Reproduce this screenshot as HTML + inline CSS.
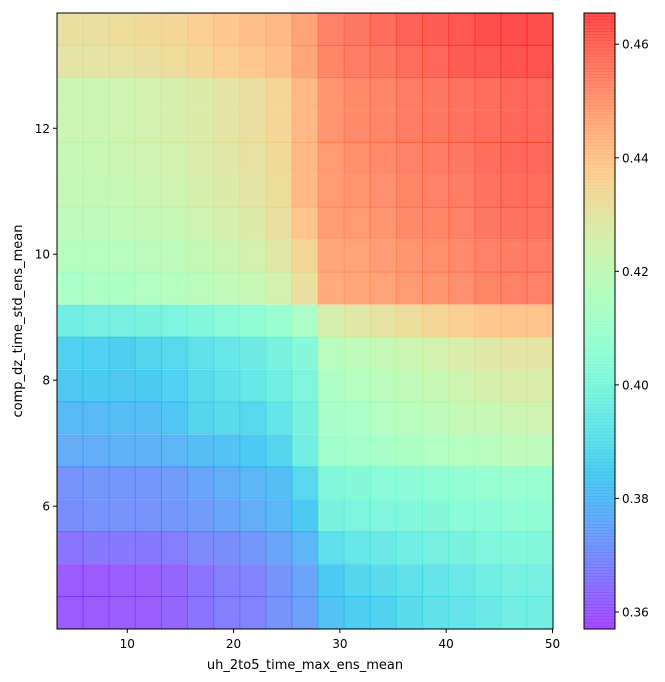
<!DOCTYPE html>
<html><head><meta charset="utf-8"><style>
body{margin:0;background:#fff;}
svg{display:block;font-family:"DejaVu Sans","Liberation Sans",sans-serif;}
</style></head><body>
<svg id="chart" width="665" height="682" viewBox="0 0 665 682" xmlns="http://www.w3.org/2000/svg">
<g id="cells"></g>
<rect x="57" y="13" width="496" height="616" fill="none" stroke="#000" stroke-width="1"/>
<g id="xaxis"></g>
<g id="yaxis"></g>
<text x="305" y="669" font-size="13" text-anchor="middle">uh_2to5_time_max_ens_mean</text>
<text transform="translate(22,321) rotate(-90)" font-size="13" text-anchor="middle">comp_dz_time_std_ens_mean</text>
<g id="cbar"></g>
<rect x="584" y="13" width="31" height="616" fill="none" stroke="#000" stroke-width="1"/>
<g id="caxis"></g>
</svg>
<script>
const xCenters=[4.62,7.07,9.53,11.99,14.44,16.90,19.35,21.81,24.27,26.72,29.18,31.64,34.09,36.55,39.00,41.46,43.92,46.37,48.83];
const yCenters=[13.57,13.06,12.55,12.03,11.52,11.00,10.49,9.97,9.46,8.94,8.43,7.91,7.40,6.88,6.37,5.85,5.34,4.82,4.31];
const zRows=[
[0.432,0.432,0.433,0.434,0.435,0.437,0.439,0.441,0.443,0.448,0.455,0.457,0.459,0.461,0.462,0.463,0.465,0.466,0.465],
[0.430,0.430,0.431,0.432,0.433,0.435,0.437,0.439,0.441,0.447,0.454,0.456,0.457,0.459,0.460,0.462,0.463,0.464,0.464],
[0.423,0.423,0.424,0.425,0.426,0.428,0.430,0.432,0.435,0.443,0.451,0.453,0.454,0.456,0.457,0.458,0.459,0.460,0.460],
[0.423,0.423,0.424,0.425,0.426,0.428,0.430,0.432,0.435,0.443,0.451,0.453,0.454,0.456,0.457,0.458,0.459,0.460,0.460],
[0.422,0.422,0.423,0.424,0.425,0.427,0.429,0.431,0.434,0.443,0.450,0.452,0.453,0.455,0.456,0.457,0.459,0.460,0.460],
[0.421,0.421,0.422,0.423,0.424,0.426,0.428,0.430,0.433,0.443,0.450,0.451,0.452,0.454,0.455,0.456,0.458,0.459,0.459],
[0.419,0.419,0.420,0.421,0.422,0.424,0.426,0.428,0.432,0.440,0.449,0.450,0.451,0.453,0.454,0.455,0.457,0.458,0.458],
[0.416,0.416,0.417,0.418,0.419,0.421,0.423,0.425,0.429,0.435,0.447,0.448,0.449,0.451,0.452,0.453,0.455,0.456,0.456],
[0.413,0.414,0.414,0.415,0.416,0.418,0.420,0.422,0.425,0.432,0.446,0.447,0.448,0.450,0.451,0.452,0.454,0.455,0.455],
[0.396,0.397,0.397,0.398,0.399,0.401,0.403,0.405,0.408,0.414,0.426,0.429,0.431,0.433,0.435,0.437,0.439,0.440,0.440],
[0.386,0.386,0.385,0.387,0.388,0.391,0.393,0.395,0.398,0.402,0.417,0.419,0.421,0.423,0.425,0.427,0.429,0.430,0.430],
[0.383,0.384,0.383,0.384,0.386,0.389,0.391,0.393,0.396,0.400,0.414,0.416,0.418,0.420,0.422,0.424,0.426,0.427,0.427],
[0.380,0.380,0.381,0.381,0.383,0.387,0.389,0.388,0.392,0.398,0.412,0.413,0.415,0.417,0.419,0.421,0.422,0.423,0.424],
[0.377,0.377,0.378,0.378,0.379,0.381,0.382,0.384,0.387,0.396,0.410,0.411,0.412,0.414,0.415,0.416,0.417,0.419,0.419],
[0.371,0.372,0.372,0.372,0.373,0.375,0.377,0.379,0.381,0.388,0.401,0.402,0.403,0.404,0.405,0.406,0.407,0.408,0.408],
[0.370,0.371,0.371,0.371,0.372,0.373,0.375,0.377,0.379,0.384,0.398,0.399,0.400,0.401,0.402,0.403,0.404,0.405,0.405],
[0.365,0.366,0.366,0.366,0.367,0.369,0.370,0.372,0.375,0.379,0.390,0.393,0.394,0.396,0.397,0.398,0.400,0.401,0.401],
[0.360,0.360,0.361,0.361,0.362,0.365,0.367,0.368,0.371,0.375,0.384,0.387,0.389,0.391,0.392,0.394,0.396,0.397,0.397],
[0.360,0.360,0.361,0.361,0.362,0.365,0.367,0.368,0.371,0.374,0.382,0.385,0.386,0.389,0.391,0.392,0.394,0.396,0.396]
];
const xTicks=[10,20,30,40,50];
const yTicks=[6,8,10,12];
const cTicks=[0.36,0.38,0.40,0.42,0.44,0.46];

const NS="http://www.w3.org/2000/svg";
const X0=57,X1=553,Y0=13,Y1=629;
const xmin=3.39,xmax=50.05,ymin=4.05,ymax=13.83,vmin=0.357,vmax=0.4655;
const sx=v=>X0+(v-xmin)/(xmax-xmin)*(X1-X0);
const sy=v=>Y1-(v-ymin)/(ymax-ymin)*(Y1-Y0);
const sc=v=>Y1-(v-vmin)/(vmax-vmin)*(Y1-Y0);
function rainbow(v){
  let t=Math.max(0,Math.min(1,(v-vmin)/(vmax-vmin)));
  let r=Math.min(1,Math.abs(2*t-0.5)), g=Math.sin(Math.PI*t), b=Math.cos(Math.PI*t/2);
  return `rgb(${Math.round(r*255)},${Math.round(g*255)},${Math.round(b*255)})`;
}
function mk(tag,attrs,parent){const e=document.createElementNS(NS,tag);for(const k in attrs)e.setAttribute(k,attrs[k]);parent.appendChild(e);return e;}
const cells=document.getElementById('cells');
const dx=(xCenters[1]-xCenters[0])/2, dy=(yCenters[0]-yCenters[1])/2;
zRows.forEach((row,ri)=>{
  row.forEach((v,ci)=>{
    const x=sx(xCenters[ci]-dx), x2=sx(xCenters[ci]+dx);
    const y=sy(yCenters[ri]+dy), y2=sy(yCenters[ri]-dy);
    const c=rainbow(v);
    const r=mk('rect',{x:x,y:y,width:x2-x,height:y2-y,fill:c,'fill-opacity':0.7,stroke:c,'stroke-opacity':0.35,'stroke-width':1},cells);
    
    
  });
});
const xa=document.getElementById('xaxis');
xTicks.forEach(t=>{
  const l=mk('line',{x1:sx(t),x2:sx(t),y1:Y1,y2:Y1+4,stroke:'#000'},xa);
  
  
  const tx=mk('text',{x:sx(t),y:Y1+19,'font-size':12,'text-anchor':'middle'},xa);
  tx.textContent=t;
  
  
});
const ya=document.getElementById('yaxis');
yTicks.forEach(t=>{
  const l=mk('line',{x1:X0-4,x2:X0,y1:sy(t),y2:sy(t),stroke:'#000'},ya);
  
  
  const tx=mk('text',{x:X0-7,y:sy(t)+4.5,'font-size':12,'text-anchor':'end'},ya);
  tx.textContent=t;
  
  
});
const cb=document.getElementById('cbar');
const N=200;
for(let i=0;i<N;i++){
  const v0=vmin+(vmax-vmin)*i/N, v1=vmin+(vmax-vmin)*(i+1)/N;
  const c=rainbow((v0+v1)/2);
  const r=mk('rect',{x:584,y:sc(v1),width:31,height:sc(v0)-sc(v1)+0.3,fill:c,'fill-opacity':0.7},cb);
  
  
}
const ca=document.getElementById('caxis');
cTicks.forEach(t=>{
  const l=mk('line',{x1:615,x2:619,y1:sc(t),y2:sc(t),stroke:'#000'},ca);
  
  
  const tx=mk('text',{x:622,y:sc(t)+4.5,'font-size':12},ca);
  tx.textContent=t.toFixed(2);
  
  
});
</script>
</body></html>
